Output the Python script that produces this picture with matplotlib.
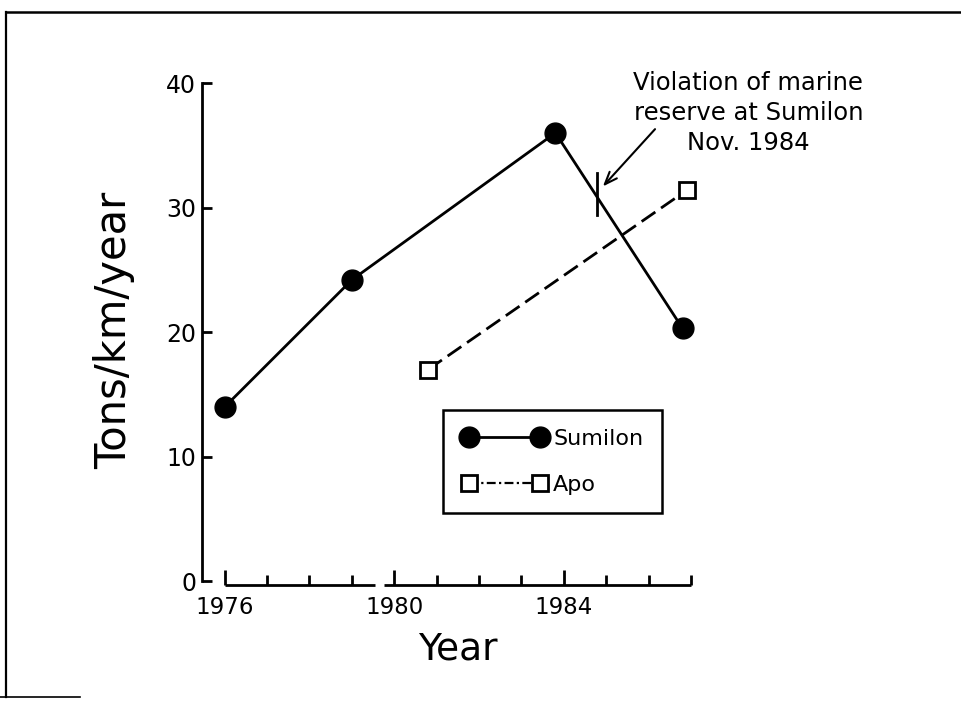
import matplotlib
matplotlib.use("Agg")
import matplotlib.pyplot as plt
from matplotlib.lines import Line2D
import matplotlib.transforms as mtransforms

# Data
sumilon_years = [1976.0, 1979.0, 1983.8, 1986.8]
sumilon_tons = [14.0, 24.2, 36.0, 20.3]
apo_years = [1980.8, 1986.9]
apo_tons = [17.0, 31.4]

# Nov. 1984 violation marker and arrow
violation_x = 1984.78
violation_y = [29.4, 32.8]
arrow_head = (1984.92, 31.7)
arrow_tail = (1986.15, 36.3)
note_pos = (1988.35, 37.6)
note_text = "Violation of marine\nreserve at Sumilon\nNov. 1984"

year_ticks = [1976, 1980, 1984]
year_minor = list(range(1977, 1988))
ton_ticks = [0, 10, 20, 30, 40]

plt.rcParams['font.family'] = ['DejaVu Sans']

fig = plt.figure(figsize=(9.61, 7.01), dpi=100)
ax = fig.add_axes([0.210, 0.1655, 0.510, 0.716])

lw = 2.0
ax.plot(sumilon_years, sumilon_tons, color='black', lw=lw, marker='o',
        markersize=15, markerfacecolor='black', label='Sumilon', zorder=3,
        clip_on=False)
ax.plot(apo_years, apo_tons, color='black', lw=lw, dashes=(6, 2.5),
        marker='s', markersize=12, markerfacecolor='white',
        markeredgewidth=2.0, label='Apo', zorder=3, clip_on=False)

# violation tick
ax.plot([violation_x, violation_x], violation_y, color='black', lw=lw)
ax.annotate('', xy=arrow_head, xytext=arrow_tail,
            arrowprops=dict(arrowstyle='->,head_length=0.9,head_width=0.35',
                            color='black', lw=1.5, shrinkA=0, shrinkB=0))
ax.text(note_pos[0], note_pos[1], note_text, ha='center', va='center',
        fontsize=17.5, linespacing=1.3, clip_on=False)

ax.set_xlim(1975.46, 1987.02)
ax.set_ylim(-0.3, 40)

for s in ['top', 'right', 'bottom']:
    ax.spines[s].set_visible(False)
ax.spines['left'].set_bounds(0, 40)
ax.spines['left'].set_linewidth(lw)

# x axis drawn in two pieces with a small break after 1979
trans = mtransforms.blended_transform_factory(ax.transData, ax.transAxes)
ax.plot([1976, 1979.55], [0, 0], transform=trans, color='black', lw=lw,
        clip_on=False, solid_capstyle='butt')
ax.plot([1979.75, 1987], [0, 0], transform=trans, color='black', lw=lw,
        clip_on=False, solid_capstyle='butt')

ax.set_xticks(year_ticks)
ax.set_xticks(year_minor, minor=True)
ax.set_yticks(ton_ticks)
ax.tick_params(axis='x', which='major', direction='in', length=11, width=lw,
               pad=8, labelsize=16.5)
ax.tick_params(axis='x', which='minor', direction='in', length=7, width=lw)
ax.tick_params(axis='y', direction='in', length=7, width=lw, pad=4,
               labelsize=17)

ax.set_xlabel('Year', fontsize=27)
ax.set_ylabel('Tons/km/year', fontsize=30)
ax.xaxis.set_label_coords(0.522, -0.092)
ax.yaxis.set_label_coords(-0.137, 0.508)

handles = [
    Line2D([], [], color='black', lw=lw, marker='o', markersize=15,
           markerfacecolor='black'),
    Line2D([], [], color='black', lw=1.6, dashes=(4, 1.5, 1, 1.5),
           marker='s', markersize=12, markerfacecolor='white',
           markeredgewidth=2.0),
]
leg = ax.legend(handles, ['Sumilon', 'Apo'], loc='upper left',
                bbox_to_anchor=(0.461, 0.415), bbox_transform=fig.transFigure,
                numpoints=2, handlelength=3.8, fontsize=16, fancybox=False,
                edgecolor='black', framealpha=1, borderpad=0.85,
                labelspacing=1.15, handletextpad=0.3, borderaxespad=0)
leg.get_frame().set_linewidth(1.8)

# scanned page border
fig.add_artist(Line2D([6 / 961, 1], [1 - 12 / 701, 1 - 12 / 701],
                      transform=fig.transFigure, color='black', lw=1.8))
fig.add_artist(Line2D([6 / 961, 6 / 961], [1 - 12 / 701, 1 - 697 / 701],
                      transform=fig.transFigure, color='black', lw=1.6))
fig.add_artist(Line2D([0, 80 / 961], [1 - 697 / 701, 1 - 697 / 701],
                      transform=fig.transFigure, color='black', lw=1.2))

fig.savefig('out.png', dpi=100)
